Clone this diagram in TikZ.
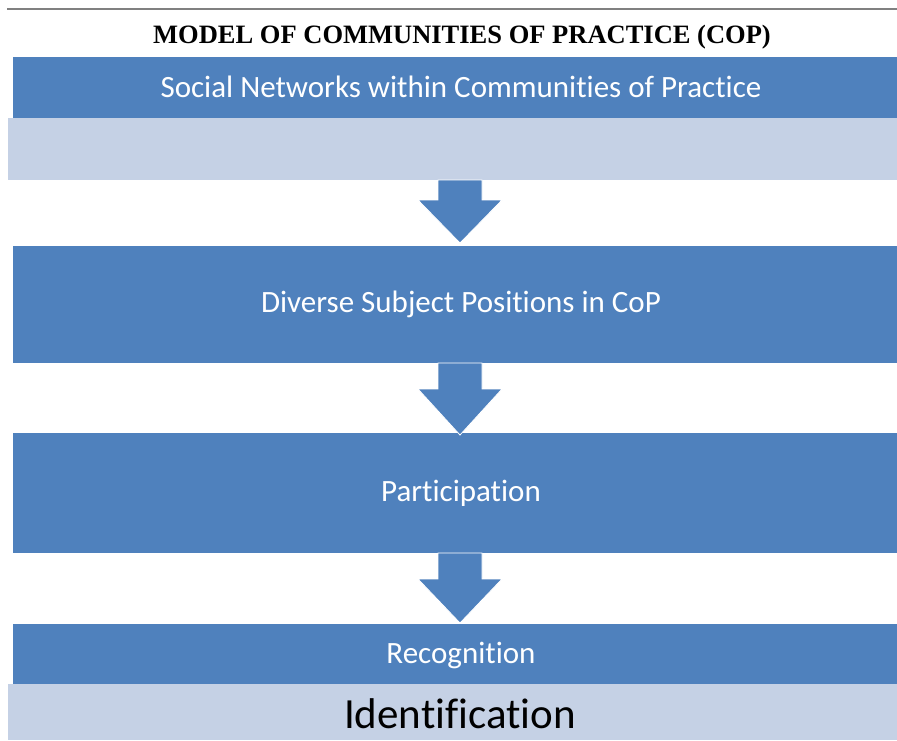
\documentclass[tikz,border=0pt]{standalone}
\usepackage{fontspec}
\setmainfont{Liberation Serif}
\newfontfamily\boxfont[Ligatures={NoCommon}]{Carlito}
\definecolor{cpblue}{HTML}{4F81BD}
\definecolor{cplight}{HTML}{C5D1E5}
\begin{document}
\begin{tikzpicture}[x=1pt,y=-1pt,
  band/.style={fill=cpblue,draw=none},
  paleband/.style={fill=cplight,draw=none},
  bandtext/.style={text=white,font=\boxfont\fontsize{31}{36}\selectfont,inner sep=0pt},
  downarrow/.style={fill=cpblue,draw=white,line width=0.8pt,line join=miter}]
\useasboundingbox (0,0) rectangle (897,740);
% rule above the title
\draw[gray,line width=1.2pt] (7,9) -- (897,9);
\node[font=\bfseries\fontsize{26.5}{30}\selectfont,inner sep=0pt] (title) at (462,37) {MODEL OF COMMUNITIES OF PRACTICE (COP)};
% stacked bands
\fill[band] (13,57) rectangle (897,118);
\fill[paleband] (8,118) rectangle (897,180);
\node[bandtext] (social) at (461,87) {Social Networks within Communities of Practice};
\fill[band] (13,246) rectangle (897,363);
\node[bandtext] (diverse) at (461,304) {Diverse Subject Positions in CoP};
\fill[band] (13,433) rectangle (897,553);
\node[bandtext] (particip) at (461,493) {Participation};
\fill[band] (13,624) rectangle (897,684);
\node[bandtext] (recog) at (461,655) {Recognition};
\fill[paleband] (8,684) rectangle (897,740);
\node[font=\boxfont\fontsize{43}{50}\selectfont,inner sep=0pt] (ident) at (460,714) {Identification};
% block arrows between bands
\draw[downarrow] (438,180) -- (482,180) -- (482,200) -- (502,200) -- (460,243) -- (418,200) -- (438,200) -- cycle;
\draw[downarrow] (438,363) -- (482,363) -- (482,389) -- (502,389) -- (460,435) -- (418,389) -- (438,389) -- cycle;
\draw[downarrow] (438,553) -- (482,553) -- (482,579) -- (502,579) -- (460,623) -- (418,579) -- (438,579) -- cycle;
\end{tikzpicture}
\end{document}
